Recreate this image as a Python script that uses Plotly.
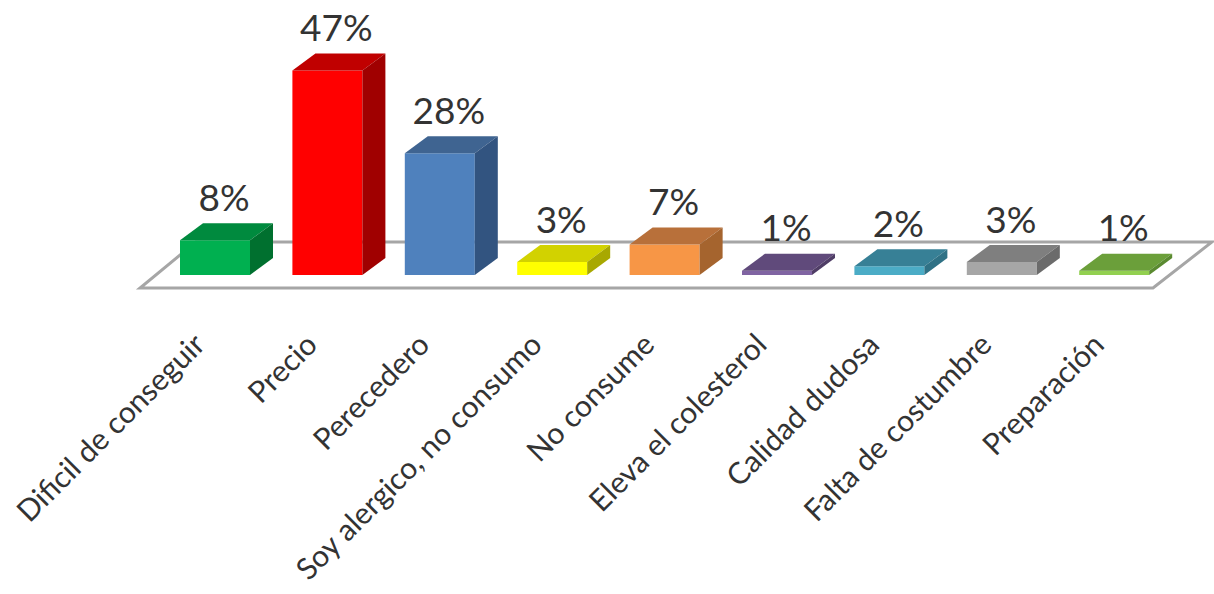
import plotly.graph_objects as go

# Survey results: reasons given, in percent
categories = ["Dificil de conseguir", "Precio", "Perecedero", "Soy alergico, no consumo",
              "No consume", "Eleva el colesterol", "Calidad dudosa",
              "Falta de costumbre", "Preparación"]
values = [8, 47, 28, 3, 7, 1, 2, 3, 1]
value_labels = ["8%", "47%", "28%", "3%", "7%", "1%", "2%", "3%", "1%"]

front_colors = ["#00B050", "#FF0000", "#4F81BD", "#FFFF00", "#F79646",
                "#8064A2", "#4BACC6", "#A6A6A6", "#92D050"]
top_colors = ["#008A3E", "#C00000", "#3F6491", "#D2D200", "#B8703A",
              "#604A7B", "#378096", "#7F7F7F", "#6B9F3A"]
side_colors = ["#00702F", "#A00000", "#325480", "#A8A800", "#A5642E",
               "#4F3D66", "#2F7185", "#6B6B6B", "#5A8A30"]

# Plot area geometry, in pixels
FIG_W, FIG_H = 1214, 594
PLOT_H = 300
BASE_PX = 275        # vertical pixel of the zero line
FIRST_PX = 215       # horizontal pixel of the first category
STEP_PX = 112.4      # pixels between categories
UNIT_PX = 4.35       # pixels per percentage point

# Bar shape and pseudo-3D depth, in axis units
BAR_W = 70 / STEP_PX
DEPTH_X = 23 / STEP_PX
DEPTH_Y = 17 / UNIT_PX
LABEL_LIFT = 3 / UNIT_PX

x_range = [-FIRST_PX / STEP_PX, (FIG_W - FIRST_PX) / STEP_PX]
y_range = [(BASE_PX - PLOT_H) / UNIT_PX, BASE_PX / UNIT_PX]

# Floor outline in axis units
floor_x = [-0.667, 8.345, 8.87, -0.17, -0.667]
floor_y = [-3.0, -3.0, 7.6, 7.6, -3.0]

fig = go.Figure()

# Front faces
fig.add_trace(go.Bar(
    x=list(range(len(values))), y=values, width=BAR_W,
    marker=dict(color=front_colors, line=dict(width=0)),
    hoverinfo="skip", showlegend=False,
))

# Top and side faces derived from each value
for i, v in enumerate(values):
    left, right = i - BAR_W / 2, i + BAR_W / 2
    fig.add_trace(go.Scatter(
        x=[left, right, right + DEPTH_X, left + DEPTH_X, left],
        y=[v, v, v + DEPTH_Y, v + DEPTH_Y, v],
        mode="lines", fill="toself", fillcolor=top_colors[i],
        line=dict(width=0), hoverinfo="skip", showlegend=False,
    ))
    fig.add_trace(go.Scatter(
        x=[right, right + DEPTH_X, right + DEPTH_X, right, right],
        y=[0, DEPTH_Y, v + DEPTH_Y, v, 0],
        mode="lines", fill="toself", fillcolor=side_colors[i],
        line=dict(width=0), hoverinfo="skip", showlegend=False,
    ))

# Percentage labels above each column
fig.add_trace(go.Scatter(
    x=[i + 0.08 for i in range(len(values))],
    y=[v + DEPTH_Y + LABEL_LIFT for v in values],
    mode="text", text=value_labels, textposition="top center",
    textfont=dict(family="Lato", size=37, color="#333333"),
    hoverinfo="skip", showlegend=False,
))

fig.add_shape(
    type="path",
    path="M " + " L ".join(f"{a},{b}" for a, b in zip(floor_x, floor_y)) + " Z",
    xref="x", yref="y", layer="below",
    line=dict(color="#A6A6A6", width=3), fillcolor="white",
)

fig.update_layout(
    width=FIG_W, height=FIG_H,
    margin=dict(l=0, r=0, t=0, b=FIG_H - PLOT_H, autoexpand=False),
    paper_bgcolor="white", plot_bgcolor="white",
    showlegend=False, barmode="overlay",
)
fig.update_xaxes(
    range=x_range, showgrid=False, zeroline=False, showline=False, automargin=False,
    tickmode="array", tickvals=list(range(len(categories))), ticktext=categories,
    tickangle=-45, ticks="", ticklabelstandoff=20, ticklabelshift=-19,
    tickfont=dict(family="Lato", size=30, color="#333333"),
)
fig.update_yaxes(range=y_range, visible=False)

fig.write_html("out.html", config=dict(displayModeBar=False))
